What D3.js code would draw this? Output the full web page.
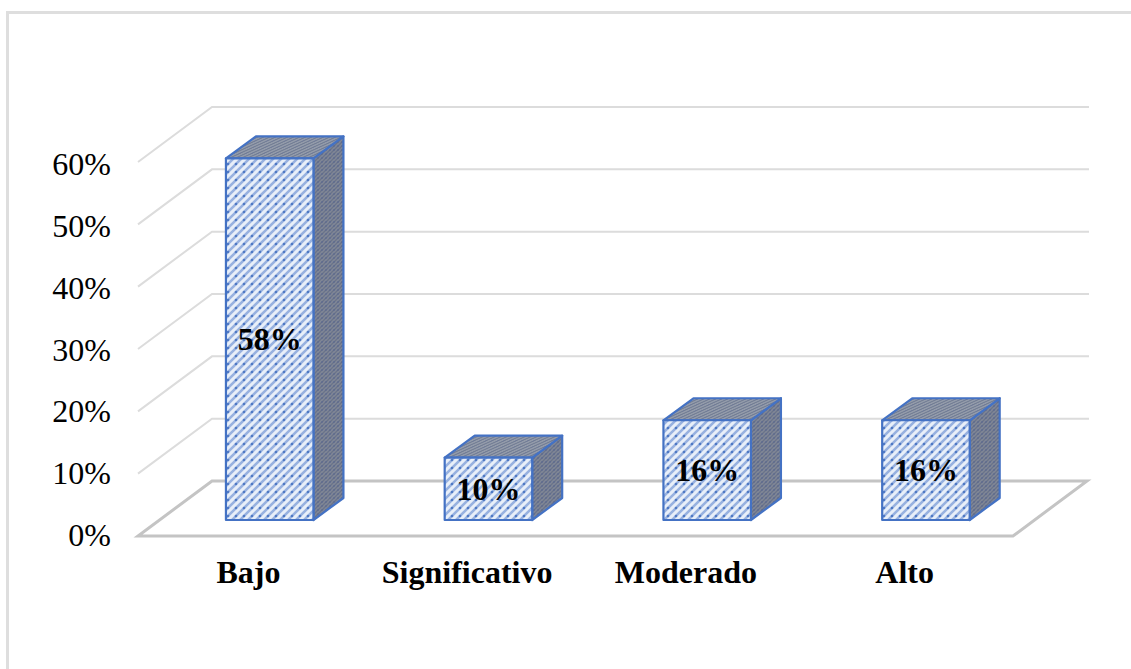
<!DOCTYPE html>
<html>
<head>
<meta charset="utf-8">
<script src="https://cdn.jsdelivr.net/npm/d3@7"></script>
<style>
html,body{margin:0;padding:0;background:#fff;overflow:hidden}
text{font-family:"Liberation Serif",serif;fill:#000}
</style>
</head>
<body>
<script>
const categories = ["Bajo", "Significativo", "Moderado", "Alto"];
const values = [58, 10, 16, 16];
const valueLabels = ["58%", "10%", "16%", "16%"];
const ticks = [0, 10, 20, 30, 40, 50, 60];

const W = 1131, H = 669;
const svg = d3.select("body").append("svg").attr("width", W).attr("height", H).style("display", "block");

// 3D projection: offset from the front plane to the back wall, and the depth of a bar
const depthX = 74, depthY = -55;
const barDepthX = 30, barDepthY = -22;
const floorFrontY = 536;

// Bars sit toward the back of the floor, so they are shifted right of their category slots
const x = d3.scaleBand().domain(categories).range([138, 1013]).paddingInner(0.6).paddingOuter(0.3).align(0.67);
const xLabel = d3.scalePoint().domain(categories).range([139, 1014]).padding(0.5);
const y = d3.scaleLinear().domain([0, 60]).range([floorFrontY, 162]);
const yTickText = d3.scaleLinear().domain([0, 60]).range([546, 175]);
const barBase = y(0) - 16;
const h = v => y(0) - y(v);

const defs = svg.append("defs");
function stripes(id, base, stroke, dots, size, sw, r, transform) {
  const p = defs.append("pattern").attr("id", id).attr("patternUnits", "userSpaceOnUse")
    .attr("width", size).attr("height", size);
  if (transform) p.attr("patternTransform", transform);
  p.append("rect").attr("width", size).attr("height", size).attr("fill", base);
  p.append("path").attr("d", `M${-1},${1} L${1},${-1} M0,${size} L${size},0 M${size - 1},${size + 1} L${size + 1},${size - 1}`)
    .attr("stroke", stroke).attr("stroke-width", sw);
  p.append("circle").attr("cx", size / 2).attr("cy", size / 2).attr("r", r).attr("fill", dots);
}
stripes("hatchFront", "#e8eff9", "#97b1e0", "#4f79c4", 8, 2.6, 1.3);
stripes("hatchTop", "#939baa", "#717c93", "#66729a", 6, 1.8, 0.6, "skewX(-50)");
stripes("hatchSide", "#808797", "#6a7389", "#4f5f92", 4, 1.3, 0.7);

// Outer frame, open on the right and bottom edges
svg.append("path").attr("d", "M7.5,669 V12.5 H1131")
  .attr("fill", "none").attr("stroke", "#dedede").attr("stroke-width", 3);

// Back wall and side wall gridlines
const grid = svg.append("g").attr("fill", "none").attr("stroke", "#dcdcdc").attr("stroke-width", 2);
ticks.filter(t => t > 0).forEach(t => {
  grid.append("path").attr("d", d3.line()([
    [x.range()[0], y(t)],
    [x.range()[0] + depthX, y(t) + depthY],
    [x.range()[1] + depthX + 2, y(t) + depthY]
  ]));
});

// Floor
svg.append("path").attr("d", d3.line()([
    [x.range()[0], y(0)],
    [x.range()[1], y(0)],
    [x.range()[1] + depthX, y(0) + depthY],
    [x.range()[0] + depthX, y(0) + depthY]
  ]) + "Z")
  .attr("fill", "#fff").attr("stroke", "#c4c4c4").attr("stroke-width", 3);

// Bars
const bars = svg.append("g").selectAll("g").data(categories).join("g");
const edge = { stroke: "#4472c4", "stroke-width": 2.2, "stroke-linejoin": "round" };
function applyEdge(s) { Object.entries(edge).forEach(([k, v]) => s.attr(k, v)); return s; }

applyEdge(bars.append("path").attr("fill", "url(#hatchSide)").attr("d", (d, i) => {
  const r = x(d) + x.bandwidth(), t = barBase - h(values[i]);
  return d3.line()([[r, barBase], [r, t], [r + barDepthX, t + barDepthY], [r + barDepthX, barBase + barDepthY]]) + "Z";
}));
applyEdge(bars.append("path").attr("fill", "url(#hatchTop)").attr("d", (d, i) => {
  const l = x(d), r = l + x.bandwidth(), t = barBase - h(values[i]);
  return d3.line()([[l, t], [r, t], [r + barDepthX, t + barDepthY], [l + barDepthX, t + barDepthY]]) + "Z";
}));
applyEdge(bars.append("rect").attr("fill", "url(#hatchFront)")
  .attr("x", d => x(d)).attr("width", x.bandwidth())
  .attr("y", (d, i) => barBase - h(values[i])).attr("height", (d, i) => h(values[i])));

// Value labels
bars.append("text").attr("text-anchor", "middle").attr("font-weight", "bold").attr("font-size", 32)
  .attr("x", d => x(d) + x.bandwidth() / 2)
  .attr("y", (d, i) => barBase - h(values[i]) / 2 + 11)
  .text((d, i) => valueLabels[i]);

// Value axis tick labels
svg.append("g").selectAll("text").data(ticks).join("text")
  .attr("x", 111).attr("y", d => yTickText(d)).attr("text-anchor", "end").attr("font-size", 32)
  .text(d => d + "%");

// Category labels
svg.append("g").selectAll("text").data(categories).join("text")
  .attr("x", d => xLabel(d)).attr("y", 583).attr("text-anchor", "middle")
  .attr("font-weight", "bold").attr("font-size", 32).text(d => d);
</script>
</body>
</html>
